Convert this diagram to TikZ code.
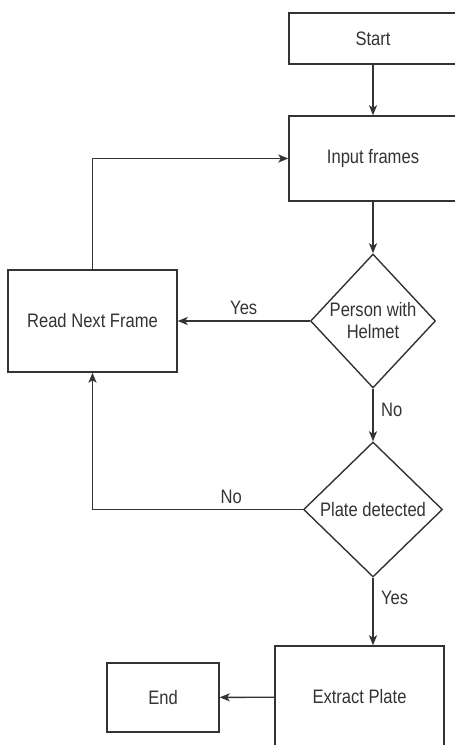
\documentclass[tikz,border=0pt]{standalone}
\usepackage{fontspec}
\setmainfont[FakeStretch=0.85]{Liberation Sans}
\usetikzlibrary{shapes.geometric,arrows.meta}

\begin{document}
\begin{tikzpicture}[x=1pt,y=-1pt,line width=1.4pt,draw=black!80,text=black!80,
  >={Stealth[length=10pt,width=8pt,inset=2.5pt]},
  font=\fontsize{19.5}{22}\selectfont,
  my box/.style={rectangle,draw,inner sep=0pt},
  my diamond/.style={diamond,draw,inner sep=0pt}]
  \useasboundingbox (0,0) rectangle (455,745);
  % NODES
  \node[my box,minimum width=168pt,minimum height=51pt] (start) at (373,38.5) {Start};
  \node[my box,minimum width=168pt,minimum height=85pt] (input) at (373,158.5) {Input frames};
  \node[my diamond,minimum width=125pt,minimum height=134pt,
        label={[align=center,font=\fontsize{19.5}{22}\selectfont]center:Person with\\Helmet}] (helmet) at (373,321) {};
  \node[my diamond,minimum width=139pt,minimum height=135pt,
        label={[font=\fontsize{19.5}{22}\selectfont]center:Plate detected}] (plate) at (373,509.5) {};
  \node[my box,minimum width=169pt,minimum height=102pt] (read) at (92.5,321) {Read Next Frame};
  \node[my box,minimum width=169pt,minimum height=102pt] (extract) at (359.5,697) {Extract Plate};
  \node[my box,minimum width=112pt,minimum height=69pt] (end) at (163,697.5) {End};
  % PATHS
  \draw[->] (start) -- (input);
  \draw[->] (input) -- (helmet);
  \draw[->] (helmet) -- node[above,yshift=2pt] {Yes} (read);
  \draw[->] (helmet) -- node[right,xshift=4pt,pos=0.4] {No} (plate);
  \draw[->] (plate.west) -| node[above,pos=0.17,yshift=2pt] {No} (read.south);
  \draw[->] (plate.south) -- node[right,xshift=4pt,pos=0.3] {Yes} (plate.south |- extract.north);
  \draw[->] (extract) -- (end);
  \draw[->] (read.north) |- (input.west);
\end{tikzpicture}
\end{document}
